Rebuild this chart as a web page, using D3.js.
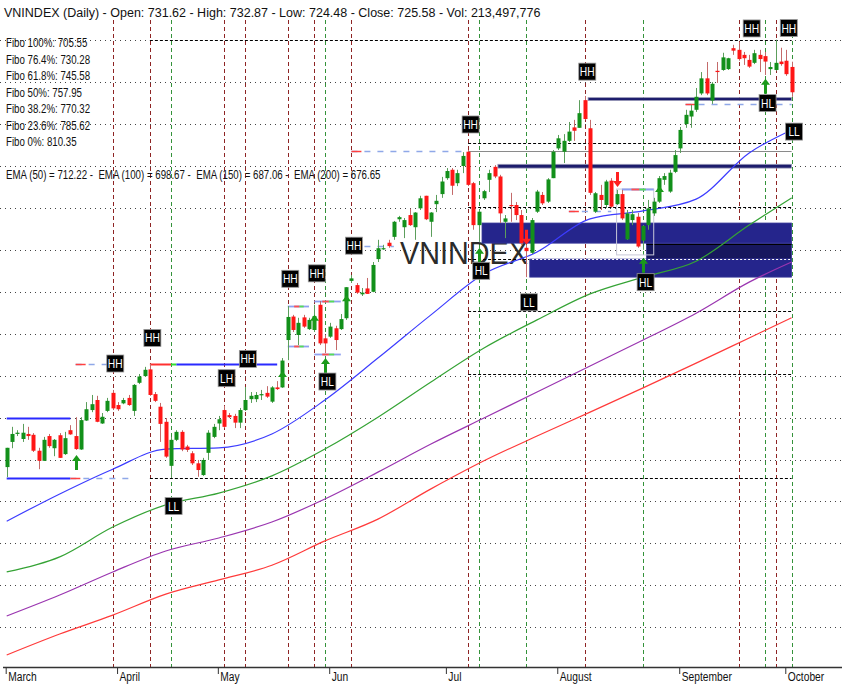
<!DOCTYPE html>
<html>
<head>
<meta charset="utf-8">
<script src="https://d3js.org/d3.v7.min.js"></script>
<style>
  body { margin: 0; background: #fff; }
  text { font-family: "Liberation Sans", Arial, sans-serif; }
</style>
</head>
<body>
<div id="chart"></div>
<script>
// month ticks (candle index where each month starts)
var months = ["March", "April", "May", "Jun", "Jul", "August", "September", "October"];
var monthStart = [0, 21, 40, 61, 83, 104, 127, 147];

// daily candles
var opens = [636.2,642.2,644.2,642.9,644.1,643.9,640.1,637.7,643.6,640.7,643.8,639.3,645.0,643.6,640.4,647.3,649.8,652.2,646.6,649.6,
  653.9,651.0,651.4,652.7,649.6,656.3,657.9,659.5,653.6,650.6,647.0,636.5,642.7,644.6,641.1,639.5,637.1,634.3,639.6,643.4,
  646.6,649.8,648.6,648.4,646.8,649.8,652.4,652.4,653.4,653.9,651.8,655.2,655.2,666.5,672.1,667.7,671.9,669.1,668.9,674.9,
  666.9,667.3,669.3,669.1,671.7,680.6,679.6,677.4,678.8,678.0,685.8,688.2,689.7,691.1,695.3,693.4,696.3,693.4,697.9,700.9,
  694.7,698.9,701.3,705.1,707.1,703.9,708.0,711.4,703.9,693.9,700.3,704.7,707.8,705.5,694.7,698.7,698.7,696.3,688.5,687.3,
  697.1,701.1,699.5,705.1,712.2,711.4,714.0,717.2,717.1,723.7,717.0,697.1,701.1,698.7,704.5,698.9,701.3,690.5,695.1,695.9,
  690.2,693.9,696.7,699.5,704.7,701.9,706.6,712.2,718.0,719.8,721.4,725.3,728.9,723.6,730.7,730.9,731.1,736.1,735.7,734.5,
  733.3,732.6,734.5,734.2,731.1,730.9,732.9,733.1,731.62];
var highs = [640.8,645.8,645.0,646.5,645.8,644.3,640.8,643.4,644.1,642.9,644.3,644.6,646.2,648.1,648.1,651.7,653.4,653.2,649.1,652.7,
  654.6,651.7,652.7,653.4,656.0,658.4,660.1,660.8,654.1,651.5,647.9,643.4,645.0,645.0,641.5,640.0,637.9,638.4,645.0,646.5,
  648.4,650.8,649.1,648.9,650.3,655.3,654.1,654.1,654.6,655.5,655.5,656.7,662.2,674.6,672.5,671.8,672.5,671.8,674.9,675.8,
  667.7,670.6,669.9,672.7,679.1,682.0,680.1,678.9,681.3,685.1,690.4,689.2,690.4,694.9,696.1,695.6,697.8,697.0,700.9,700.9,
  697.0,701.1,705.4,707.5,707.5,707.1,711.3,711.8,704.2,697.5,702.3,707.1,708.2,705.9,696.3,701.6,699.4,697.5,689.2,695.6,
  702.3,701.8,705.1,711.8,715.4,715.6,718.5,719.0,723.7,724.7,719.0,701.8,703.5,704.7,705.1,702.3,702.3,697.5,697.5,696.8,
  693.9,699.9,700.4,705.6,706.3,707.1,711.8,717.3,721.4,722.6,726.6,730.4,732.8,728.0,732.8,735.0,733.8,736.9,737.6,735.2,
  734.5,735.7,735.7,735.2,732.8,738.1,736.2,735.7,732.87];
var lows = [633.8,640.7,643.6,642.2,642.7,639.8,635.7,637.7,640.8,638.8,638.4,639.1,643.9,640.3,640.3,647.2,649.3,646.9,646.5,649.3,
  649.8,649.6,651.2,650.8,648.4,656.0,657.7,653.2,651.7,642.2,638.4,633.6,642.4,640.0,639.8,636.7,633.9,634.1,637.9,643.1,
  645.0,645.5,647.9,645.5,645.5,649.6,651.5,651.7,652.2,652.7,651.5,654.6,655.1,661.7,668.4,665.3,669.4,668.9,668.4,665.3,
  663.4,667.0,664.1,668.9,671.3,680.1,677.5,677.0,677.5,677.9,685.1,688.0,688.5,690.4,694.7,690.8,693.7,690.4,697.5,695.1,
  691.1,697.0,700.4,704.7,701.1,703.2,706.3,703.2,692.8,689.9,699.9,701.8,705.1,694.4,690.8,694.7,695.1,689.2,681.5,687.0,
  696.8,698.7,699.2,705.1,711.8,708.7,713.7,714.0,717.1,719.0,701.1,696.8,697.5,698.0,698.0,698.7,695.1,690.4,693.9,688.5,
  688.0,692.8,696.1,699.2,703.5,701.6,706.3,711.1,717.1,717.1,720.9,724.9,724.9,722.8,727.8,730.7,730.9,734.5,733.1,732.1,
  731.4,732.3,730.4,729.7,729.7,730.7,731.9,729.5,724.48];
var closes = [640.8,644.1,644.4,644.4,643.6,640.1,637.7,642.7,641.2,642.7,638.4,643.1,644.0,640.5,647.4,650.0,651.2,647.0,648.2,652.0,
  650.2,650.0,652.2,651.0,655.8,657.8,659.4,653.4,652.0,646.5,638.7,642.7,644.6,640.4,640.3,637.1,635.5,637.9,644.4,645.8,
  647.6,645.8,648.1,646.8,649.8,652.2,653.2,653.4,653.6,653.0,655.2,654.8,661.6,672.0,668.9,670.6,669.7,671.3,672.2,665.7,
  665.7,669.7,666.5,671.5,679.1,681.2,677.8,677.8,677.5,684.4,688.4,688.4,688.9,694.7,695.8,695.1,693.9,696.9,700.3,695.3,
  696.9,699.7,704.3,706.8,703.3,706.3,710.4,703.5,693.9,697.1,702.0,706.3,705.5,696.7,695.5,698.5,696.3,689.6,687.7,695.1,
  701.9,699.1,704.8,711.4,714.6,714.0,716.2,716.4,720.6,719.2,701.6,701.5,699.9,704.3,698.3,701.3,695.5,696.7,696.5,688.8,
  693.7,697.9,699.5,705.1,705.6,706.4,710.6,716.6,720.2,721.2,724.5,728.9,725.3,727.6,730.4,733.9,733.7,735.5,733.5,733.7,
  731.7,734.9,733.5,732.9,731.6,732.6,732.3,729.9,725.58];

// moving averages, sampled every 10 sessions
var emaIdx = [0, 10, 20, 30, 40, 50, 60, 70, 80, 90, 100, 110, 120, 130, 140, 148];
var ema50 = [623.3,629.8,635.7,640.5,640.8,644.1,652.2,662.2,672.5,682.3,687.5,695.4,697.3,700.1,711.1,716.6];
var ema100 = [611.2,614.8,621.9,627.2,630.0,634.1,640.5,648.1,656.5,664.6,671.3,677.5,681.5,685.3,693.9,700.4];
var ema150 = [600.7,605.7,611.2,616.2,619.3,623.1,628.6,635.0,641.7,647.9,654.1,660.3,666.5,672.9,680.3,685.1];
var ema200 = [591.4,596.4,600.9,605.9,609.3,612.8,618.6,623.8,631.0,637.7,643.6,649.3,655.1,661.0,667.0,671.8];

// horizontal price grid
var gridTicks = [598, 608, 618, 628, 638, 648, 658, 668, 678, 688, 698, 708, 718, 728, 738];

// fibonacci retracement lines
var fiboPrice = [738.1, 713.4, 698.2, 685.8, 673.5, 658.3, 633.6];
var fiboFrom = [27, 87, 87, 87, 87, 87, 27];
var fiboText = ["Fibo 100%: 705.55", "Fibo 76.4%: 730.28", "Fibo 61.8%: 745.58", "Fibo 50%: 757.95",
  "Fibo 38.2%: 770.32", "Fibo 23.6%: 785.62", "Fibo 0%: 810.35"];

// swing markers
var vRed = [20, 27, 41, 45, 53, 58, 65, 87, 109, 138, 145];
var vGreen = [31, 60, 89, 98, 120, 143, 148];
var pivotIdx = [20, 27, 41, 45, 53, 58, 60, 65, 87, 89, 98, 109, 120, 140, 147, 143, 148, 31];
var pivotText = ["HH","HH","LH","HH","HH","HH","HL","HH","HH","HL","LL","HH","HL","HH","HH","HL","LL","LL"];
var pivotPrice = [660.9,667.0,657.4,662.0,681.1,682.4,656.6,689.0,717.9,683.0,675.5,730.5,680.3,740.8,740.9,723.0,716.2,626.9];
var arrowIdx = [13, 52, 58, 60, 64, 89, 120, 123, 143, 98, 115];
var arrowTip = [639.1, 659.1, 672.5, 662.2, 677.2, 688.5, 686.1, 703.2, 728.8, 689.2, 703.0];
var arrowUp = [1, 1, 1, 1, 1, 1, 1, 1, 1, 0, 0];

// supply / demand zones
var zoneFrom = [90, 121, 99, 93, 110];
var zoneTop = [694.4, 689.6, 685.8, 708.4, 724.3];
var zoneBottom = [689.6, 685.8, 681.5, 707.5, 723.6];
var zoneKind = ["zone", "dark", "zone", "bar", "bar"];

// support / resistance segments
var levelFrom = [0, 0, 12, 13, 27, 31, 32, 53, 53, 58, 58, 65, 65, 87, 106, 116, 128];
var levelTo = [12, 12, 23, 19, 31, 32, 51, 57, 57, 63, 63, 87, 73, 148, 114, 122, 148];
var levelPrice = [647.9, 633.6, 633.6, 660.8, 660.8, 660.8, 660.8, 674.6, 665.1, 675.9, 663.2, 711.6, 688.9, 711.6, 697.3, 702.5, 722.9];
var levelKind = ["blue","blue","dash","dash","red","green","blue","mix","mix","mix","mix","dash","dash","gray","dash","mix","dash"];

var W = 842, H = 689;
var x = d3.scaleLinear().domain([0, 148]).range([6.7, 791.6]);
var y = d3.scaleLinear().domain([600, 740]).range([618.9, 31.8]);
var px = function (v) { return Math.round(v) + 0.5; };
var NARROW = 0.82;

var svg = d3.select("#chart").append("svg")
  .attr("width", W).attr("height", H)
  .style("display", "block").style("background", "#fff");

// grid
svg.append("g").selectAll("line").data(gridTicks).enter().append("line")
  .attr("x1", 0).attr("x2", W)
  .attr("y1", function (d) { return px(y(d)); }).attr("y2", function (d) { return px(y(d)); })
  .attr("stroke", "#444").attr("stroke-dasharray", "1,4");

// vertical swing lines
var vl = vRed.map(function (i) { return { i: i, c: "#8e2424" }; })
  .concat(vGreen.map(function (i) { return { i: i, c: "#34923a" }; }));
svg.append("g").selectAll("line").data(vl).enter().append("line")
  .attr("x1", function (d) { return px(x(d.i)); }).attr("x2", function (d) { return px(x(d.i)); })
  .attr("y1", 20).attr("y2", 667)
  .attr("stroke", function (d) { return d.c; }).attr("stroke-dasharray", "4,3");

// watermark
svg.append("text").attr("x", 400).attr("y", 264).text("VNINDEX")
  .attr("font-size", 32).attr("fill", "#2b2b2b")
  .attr("textLength", 128).attr("lengthAdjust", "spacingAndGlyphs");

// fibo lines (black)
var fibo = fiboPrice.map(function (p, k) { return { p: p, f: fiboFrom[k] }; });
svg.append("g").selectAll("line").data(fibo).enter().append("line")
  .attr("x1", function (d) { return x(d.f); }).attr("x2", x(148))
  .attr("y1", function (d) { return px(y(d.p)); }).attr("y2", function (d) { return px(y(d.p)); })
  .attr("stroke", "#000").attr("stroke-dasharray", "3,2");

// zones
var zoneFill = { zone: "#25258c", dark: "#17175e", bar: "#1c1c6c" };
var zones = zoneFrom.map(function (f, k) { return { f: f, t: zoneTop[k], b: zoneBottom[k], k: zoneKind[k] }; });
var clip = svg.append("clipPath").attr("id", "zclip");
zones.forEach(function (z) {
  var r = { x: x(z.f) - 2, y: y(z.t), w: x(148) - x(z.f) + 2, h: y(z.b) - y(z.t) };
  svg.append("rect").attr("x", r.x).attr("y", r.y).attr("width", r.w).attr("height", r.h)
    .attr("fill", zoneFill[z.k]).attr("stroke", z.k === "bar" ? "#9a9ab8" : "#3a3a9a").attr("stroke-width", 0.8);
  clip.append("rect").attr("x", r.x).attr("y", r.y).attr("width", r.w).attr("height", r.h);
});
// fibo lines show white over the zones
svg.append("g").attr("clip-path", "url(#zclip)").selectAll("line").data(fibo).enter().append("line")
  .attr("x1", function (d) { return x(d.f); }).attr("x2", x(148))
  .attr("y1", function (d) { return px(y(d.p)); }).attr("y2", function (d) { return px(y(d.p)); })
  .attr("stroke", "#fff").attr("stroke-dasharray", "2,2");
svg.append("line").attr("x1", x(121) - 2).attr("x2", x(148))
  .attr("y1", px(y(689.4))).attr("y2", px(y(689.4))).attr("stroke", "#000");

// consolidation box
svg.append("rect").attr("x", x(115)).attr("y", y(702.5))
  .attr("width", x(122) - x(115)).attr("height", y(686.8) - y(702.5))
  .attr("fill", "none").attr("stroke", "#c8c8d8");

// support / resistance levels
var lv = svg.append("g");
levelFrom.forEach(function (f, k) {
  var x1 = x(f), x2 = x(levelTo[k]), yy = px(y(levelPrice[k])), kind = levelKind[k];
  var seg = function (a, b, c, w, dash) {
    var l = lv.append("line").attr("x1", a).attr("x2", b).attr("y1", yy).attr("y2", yy)
      .attr("stroke", c).attr("stroke-width", w);
    if (dash) l.attr("stroke-dasharray", dash);
  };
  if (kind === "blue") seg(x1, x2, "#2a2aff", 2);
  else if (kind === "red") seg(x1, x2, "#ff3030", 2);
  else if (kind === "green") seg(x1, x2, "#33dd33", 2);
  else if (kind === "gray") seg(x1, x2, "#8a8a8a", 1.2);
  else if (kind === "dash") {
    seg(x1, x2, "#8fa8e8", 1.5, "6,7");
    seg(x1, Math.min(x1 + 10, x2), "#ff4040", 1.5);
  } else if (kind === "mix") {
    var w = x2 - x1;
    seg(x1, x2, "#8fa0f0", 1.8);
    seg(x1 + w * 0.3, x1 + w * 0.55, "#ff5050", 1.8);
    seg(x1 + w * 0.55, x1 + w * 0.75, "#55dd55", 1.8);
  }
});

// moving averages
var emaLine = d3.line().x(function (d) { return x(d[0]); }).y(function (d) { return y(d[1]); }).curve(d3.curveMonotoneX);
[[ema200, "#ff3a3a"], [ema150, "#9a35b0"], [ema100, "#35a335"], [ema50, "#3c3cff"]].forEach(function (e) {
  svg.append("path").datum(emaIdx.map(function (i, k) { return [i, e[0][k]]; }))
    .attr("d", emaLine).attr("fill", "none").attr("stroke", e[1]).attr("stroke-width", 1.2);
});

// candles
var candles = opens.map(function (o, i) { return { i: i, o: o, h: highs[i], l: lows[i], c: closes[i] }; });
var cg = svg.append("g").selectAll("g").data(candles).enter().append("g");
cg.append("line")
  .attr("x1", function (d) { return px(x(d.i)); }).attr("x2", function (d) { return px(x(d.i)); })
  .attr("y1", function (d) { return y(d.h); }).attr("y2", function (d) { return y(d.l); })
  .attr("stroke", function (d) { return d.c >= d.o ? "#5c9e5c" : "#c46a6a"; });
cg.append("rect")
  .attr("x", function (d) { return Math.round(x(d.i)) - 1.5; }).attr("width", 4)
  .attr("y", function (d) { return y(Math.max(d.o, d.c)); })
  .attr("height", function (d) { return Math.max(1.2, Math.abs(y(d.o) - y(d.c))); })
  .attr("fill", function (d) { return d.c >= d.o ? "#12901a" : "#ff1616"; });

// arrows
var arrows = arrowIdx.map(function (i, k) { return { i: i, p: arrowTip[k], up: arrowUp[k] }; });
svg.append("g").selectAll("path").data(arrows).enter().append("path")
  .attr("d", function (d) {
    var cx = Math.round(x(d.i)) + 0.5, ty = y(d.p), s = d.up ? 1 : -1;
    return "M" + cx + "," + ty + "l4.5," + (6 * s) + "h-3v" + (9 * s) + "h-3v" + (-9 * s) + "h-3z";
  })
  .attr("fill", function (d) { return d.up ? "#1a9a1a" : "#ff2020"; });

// pivot labels
var pv = pivotIdx.map(function (i, k) { return { i: i, t: pivotText[k], p: pivotPrice[k] }; });
var lg = svg.append("g").selectAll("g").data(pv).enter().append("g")
  .attr("transform", function (d) { return "translate(" + (x(d.i) + 2.5) + "," + y(d.p) + ")"; });
lg.append("rect").attr("x", -8.5).attr("y", -8.5).attr("width", 17).attr("height", 17)
  .attr("fill", "#000").attr("stroke", "#9a9a9a").attr("stroke-width", 0.8);
lg.append("text").attr("text-anchor", "middle").attr("y", 4.5).attr("font-size", 12.5)
  .attr("transform", "scale(" + NARROW + ",1)")
  .attr("fill", "#fff").text(function (d) { return d.t; });

// x axis
svg.append("line").attr("x1", 3).attr("x2", W).attr("y1", 667.5).attr("y2", 667.5)
  .attr("stroke", "#333").attr("stroke-width", 1.5);
var ax = svg.append("g").attr("transform", "translate(-1,668)")
  .call(d3.axisBottom(x).tickValues(monthStart).tickSize(6).tickSizeOuter(0)
    .tickFormat(function (d, k) { return months[k]; }));
ax.select(".domain").remove();
ax.selectAll(".tick line").attr("stroke", "#333");
ax.selectAll(".tick text").attr("text-anchor", "start").attr("x", 2.4).attr("y", 4)
  .attr("transform", "scale(" + NARROW + ",1)")
  .attr("fill", "#111").style("font-size", "12.5px")
  .style("font-family", "'Liberation Sans', Arial, sans-serif");

// header and legends
svg.append("text").attr("x", 4).attr("y", 16.5).attr("font-size", 12.5).attr("fill", "#111")
  .text("VNINDEX (Daily) - Open: 731.62 - High: 732.87 - Low: 724.48 - Close: 725.58 - Vol: 213,497,776");
svg.append("g").selectAll("text").data(fiboText).enter().append("text")
  .attr("transform", function (d, k) { return "translate(6," + (47.4 + k * 16.5) + ") scale(0.77,1)"; })
  .attr("font-size", 12.6).attr("fill", "#111").text(function (d) { return d; });
svg.append("text").attr("transform", "translate(6,178.6) scale(0.77,1)")
  .attr("font-size", 12.6).attr("fill", "#111")
  .attr("xml:space", "preserve").style("white-space", "pre")
  .text("EMA (50) = 712.22 -  EMA (100) = 698.67 -  EMA (150) = 687.06 -  EMA (200) = 676.65");
</script>
</body>
</html>
